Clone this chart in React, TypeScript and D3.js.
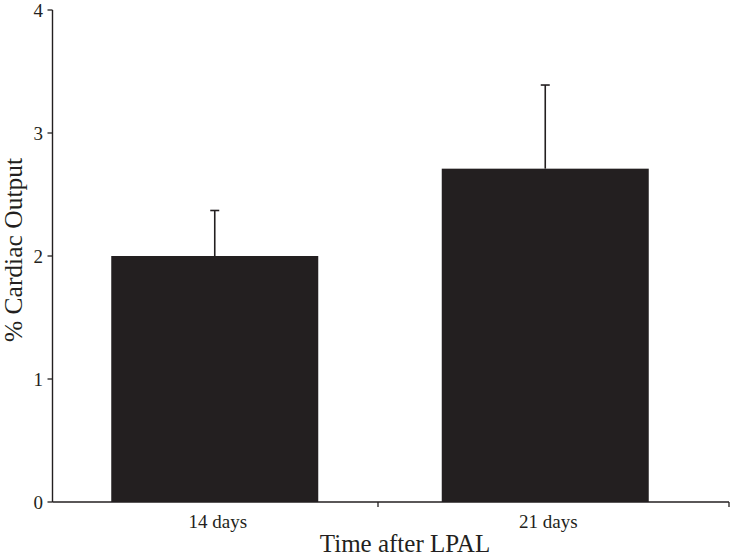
import React from "react";
import * as d3 from "d3";

const categories = ["14 days", "21 days"];
const means = [2.0, 2.71];
const errors = [0.37, 0.68];
const yTicks = [0, 1, 2, 3, 4];

const W = 731;
const H = 558;
const ink = "#231f20";

const App: React.FC = () => {
  const y = d3.scaleLinear().domain([0, 4]).range([502, 10]);
  const x = d3.scaleBand().domain(categories).range([49.5, 710.5]).paddingInner(0).paddingOuter(0);
  const barW = 207;
  const axisX = 52.5;
  const axisEnd = 729;
  const midTick = 378;

  return (
    <svg width={W} height={H} style={{ position: "absolute", left: 0, top: 0 }}
      fontFamily="'Liberation Serif', 'Times New Roman', serif">
      <rect width={W} height={H} fill="#fff" />
      {categories.map((c, i) => {
        const cx = (x(c) as number) + x.bandwidth() / 2;
        const top = y(means[i]);
        const errTop = y(means[i] + errors[i]);
        return (
          <g key={c}>
            <rect x={cx - barW / 2} y={top} width={barW} height={y(0) - top} fill={ink} />
            <line x1={cx} x2={cx} y1={top} y2={errTop} stroke={ink} strokeWidth={1.6} />
            <line x1={cx - 4.5} x2={cx + 4.5} y1={errTop} y2={errTop} stroke={ink} strokeWidth={1.6} />
            <text x={cx + 3} y={528} fontSize={19} textAnchor="middle" fill={ink}>{c}</text>
          </g>
        );
      })}
      {/* y axis */}
      <line x1={axisX} x2={axisX} y1={y(4)} y2={y(0)} stroke={ink} strokeWidth={1.4} />
      {yTicks.map((t) => (
        <g key={t}>
          <line x1={axisX - 5} x2={axisX} y1={y(t)} y2={y(t)} stroke={ink} strokeWidth={1.3} />
          <text x={43} y={y(t)} dy="0.35em" fontSize={19} textAnchor="end" fill={ink}>{t}</text>
        </g>
      ))}
      {/* x axis */}
      <line x1={axisX} x2={axisEnd} y1={y(0)} y2={y(0)} stroke={ink} strokeWidth={1.4} />
      {[midTick, axisEnd].map((t) => (
        <line key={t} x1={t} x2={t} y1={y(0)} y2={y(0) + 5} stroke={ink} strokeWidth={1.3} />
      ))}
      <text x={405} y={552} fontSize={25} textAnchor="middle" fill={ink}>Time after LPAL</text>
      <text transform={`translate(22,250) rotate(-90)`} fontSize={25.5} textAnchor="middle" fill={ink}>
        % Cardiac Output
      </text>
    </svg>
  );
};

export default App;
